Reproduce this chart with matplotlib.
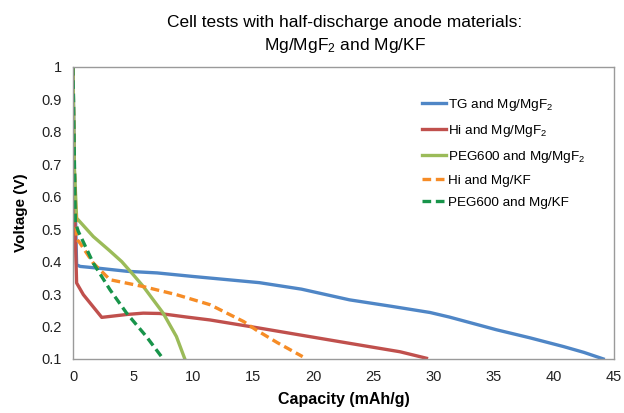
import matplotlib
matplotlib.use("Agg")
import matplotlib.pyplot as plt

# Discharge curves (capacity mAh/g, voltage V)
tg_mgf2_cap = [0.0, 0.1, 0.3, 0.6, 2.0, 4.5, 7.0, 10.0, 15.5, 19.0, 23.0, 26.5,
               29.7, 31.3, 35.2, 38.0, 40.8, 42.5, 44.1]
tg_mgf2_v = [1.0, 0.70, 0.39, 0.385, 0.38, 0.37, 0.365, 0.354, 0.335, 0.315,
             0.282, 0.262, 0.243, 0.229, 0.19, 0.165, 0.138, 0.12, 0.1]

hi_mgf2_cap = [0.0, 0.1, 0.3, 0.86, 1.69, 2.39, 3.1, 4.5, 5.84, 7.2, 9.45, 11.4,
               15.5, 19.0, 23.0, 27.2, 29.4]
hi_mgf2_v = [1.0, 0.60, 0.334, 0.298, 0.26, 0.228, 0.231, 0.237, 0.241, 0.24,
             0.229, 0.22, 0.195, 0.173, 0.148, 0.122, 0.102]

peg_mgf2_cap = [0.0, 0.1, 0.3, 1.69, 3.0, 4.05, 5.0, 5.85, 7.5, 8.6, 9.3]
peg_mgf2_v = [1.0, 0.70, 0.534, 0.477, 0.435, 0.40, 0.36, 0.323, 0.241, 0.169, 0.1]

hi_kf_cap = [0.0, 0.1, 0.3, 0.58, 1.69, 3.08, 5.84, 8.6, 11.4, 14.2, 15.2,
             17.0, 19.1]
hi_kf_v = [1.0, 0.70, 0.47, 0.457, 0.395, 0.344, 0.323, 0.298, 0.267, 0.215,
           0.19, 0.15, 0.107]

peg_kf_cap = [0.0, 0.1, 0.2, 0.44, 1.69, 3.08, 4.46, 6.1, 7.5]
peg_kf_v = [1.0, 0.75, 0.52, 0.493, 0.395, 0.313, 0.241, 0.169, 0.1]

x_ticks = [0, 5, 10, 15, 20, 25, 30, 35, 40, 45]
y_ticks = [0.1, 0.2, 0.3, 0.4, 0.5, 0.6, 0.7, 0.8, 0.9, 1.0]
y_tick_labels = ["0.1", "0.2", "0.3", "0.4", "0.5", "0.6", "0.7", "0.8", "0.9", "1"]

plt.rcParams["font.family"] = ["Liberation Sans", "DejaVu Sans"]
plt.rcParams["mathtext.fontset"] = "custom"
plt.rcParams["mathtext.rm"] = "Liberation Sans"
plt.rcParams["mathtext.it"] = "Liberation Sans"

fig = plt.figure(figsize=(6.24, 4.13), dpi=100)
ax = fig.add_axes([0.117, 0.131, 0.867, 0.707])

lw = 2.4
dash = (0, (2.6, 1.4))
ax.plot(tg_mgf2_cap, tg_mgf2_v, color="#4F86C6", lw=lw, label="TG and Mg/MgF$_2$")
ax.plot(hi_mgf2_cap, hi_mgf2_v, color="#C0504D", lw=lw, label="Hi and Mg/MgF$_2$")
ax.plot(peg_mgf2_cap, peg_mgf2_v, color="#9BBB59", lw=lw, label="PEG600 and Mg/MgF$_2$")
ax.plot(hi_kf_cap, hi_kf_v, color="#F68C26", lw=lw, ls=dash, label="Hi and Mg/KF")
ax.plot(peg_kf_cap, peg_kf_v, color="#18944A", lw=lw, ls=dash, label="PEG600 and Mg/KF")

ax.set_xlim(0, 45)
ax.set_ylim(0.1, 1.0)
ax.set_xticks(x_ticks)
ax.set_yticks(y_ticks)
ax.set_yticklabels(y_tick_labels)
ax.tick_params(length=0, labelsize=10.5, pad=8, colors="#222222")
for sp in ax.spines.values():
    sp.set_color("#9a9a9a")
    sp.set_linewidth(1.0)

ax.set_xlabel("Capacity (mAh/g)", fontsize=11.5, fontweight="bold", labelpad=6)
ax.set_ylabel("Voltage (V)", fontsize=11, fontweight="bold", labelpad=10)

fig.text(0.553, 0.945, "Cell tests with half-discharge anode materials:",
         ha="center", va="center", fontsize=12.5)
fig.text(0.553, 0.89, "Mg/MgF$_2$ and Mg/KF", ha="center", va="center",
         fontsize=12.5)

ax.legend(loc="upper left", bbox_to_anchor=(0.635, 0.915), frameon=False,
          fontsize=9.7, handlelength=1.8, handletextpad=0.1,
          labelspacing=0.72, borderaxespad=0)

fig.savefig("out.png", dpi=100)
